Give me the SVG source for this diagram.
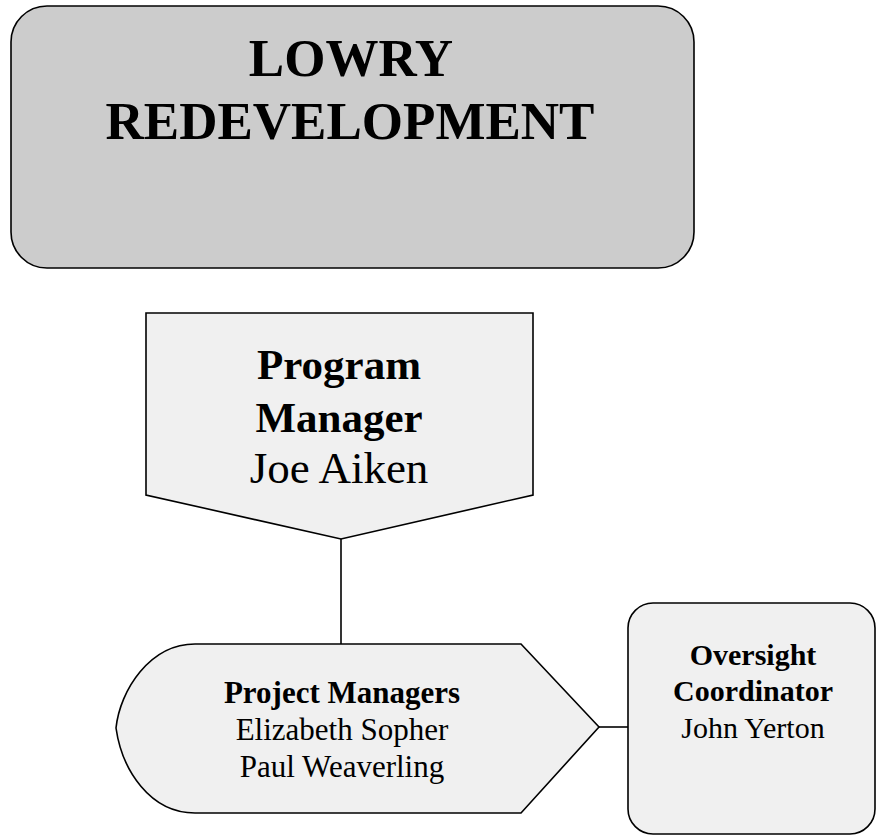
<svg xmlns="http://www.w3.org/2000/svg" width="877" height="836" viewBox="0 0 877 836">
<style>
.shape{stroke:#000;stroke-width:1.6;}
.conn{stroke:#000;stroke-width:1.6;fill:none;}
.serif{font-family:"Liberation Serif","Times New Roman",serif;fill:#000;text-anchor:middle;}
.b{font-weight:bold;}
</style>
<rect width="877" height="836" fill="#fff"/>
<g id="connectors">
<line class="conn" x1="341" y1="539" x2="341" y2="644"/>
<line class="conn" x1="599" y1="727" x2="628" y2="727"/>
</g>
<g id="lowry">
<rect class="shape" x="11" y="6" width="683" height="262" rx="36" ry="36" fill="#cccccc"/>
<text class="serif b" x="351" y="76" font-size="53">LOWRY</text>
<text class="serif b" x="350" y="139" font-size="53">REDEVELOPMENT</text>
</g>
<g id="program-manager">
<path class="shape" d="M146,313 L533,313 L533,495 L341,539 L146,495 Z" fill="#f0f0f0"/>
<text class="serif b" x="339" y="379" font-size="43">Program</text>
<text class="serif b" x="339" y="432" font-size="43">Manager</text>
<text class="serif" x="339" y="483" font-size="45">Joe Aiken</text>
</g>
<g id="project-managers">
<path class="shape" d="M195,644 L521,644 L599,727 L521,813 L195,813 C150,813 122,770 116,728 C120,690 150,644 195,644 Z" fill="#f0f0f0"/>
<text class="serif b" x="342" y="703" font-size="31">Project Managers</text>
<text class="serif" x="342" y="740" font-size="31">Elizabeth Sopher</text>
<text class="serif" x="342" y="777" font-size="31">Paul Weaverling</text>
</g>
<g id="oversight-coordinator">
<rect class="shape" x="628" y="603" width="247" height="231" rx="25" ry="25" fill="#f0f0f0"/>
<text class="serif b" x="753" y="665" font-size="30">Oversight</text>
<text class="serif b" x="753" y="701" font-size="30">Coordinator</text>
<text class="serif" x="753" y="738" font-size="30">John Yerton</text>
</g>
</svg>
